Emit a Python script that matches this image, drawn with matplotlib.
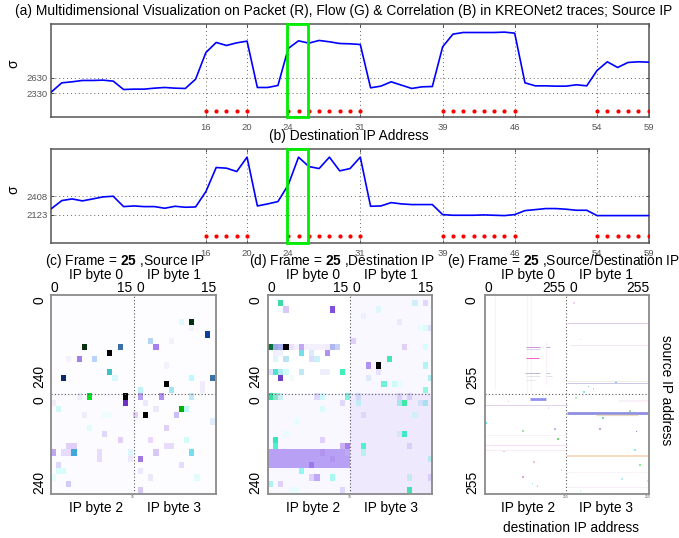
import numpy as np
import matplotlib
matplotlib.use("Agg")
import matplotlib.pyplot as plt
from matplotlib.colors import to_rgb
from matplotlib.patches import Rectangle

plt.rcParams['font.family'] = ['Liberation Sans', 'DejaVu Sans']
plt.rcParams['mathtext.fontset'] = 'custom'
plt.rcParams['mathtext.bf'] = 'Liberation Sans:bold'

W, H = 679, 538

frames = list(range(1, 60))
sigma_src = [2362, 2536, 2556, 2582, 2582, 2588, 2569, 2407, 2414, 2414, 2433, 2446, 2433, 2427, 2607,
             3123, 3317, 3259, 3310, 3343, 2446, 2446, 2485, 3201, 3349, 3304, 3356, 3330, 3297, 3291,
             3278, 2440, 2472, 2556, 2491, 2427, 2459, 2465, 3233, 3478, 3510, 3510, 3510, 3510, 3517,
             3497, 2536, 2478, 2478, 2472, 2472, 2498, 2478, 2775, 2943, 2833, 2930, 2943, 2936]
sigma_dst = [2220, 2342, 2367, 2337, 2367, 2398, 2408, 2250, 2260, 2250, 2250, 2225, 2255, 2240, 2245,
             2479, 2846, 2836, 2785, 3004, 2260, 2291, 2327, 2581, 3004, 2861, 2830, 3004, 2795, 2830,
             3004, 2255, 2260, 2311, 2291, 2281, 2281, 2281, 2128, 2118, 2118, 2118, 2123, 2118, 2113,
             2128, 2189, 2204, 2220, 2220, 2210, 2194, 2194, 2113, 2113, 2113, 2113, 2113, 2113]

anomaly_frames = [16, 17, 18, 19, 20, 24, 25, 26, 27, 28, 29, 30, 31, 39, 40, 41, 42, 43, 44, 45, 46,
                  54, 55, 56, 57, 58, 59]
xtick_frames = [16, 20, 24, 31, 39, 46, 54, 59]
yticks_src = [2330, 2630]
yticks_dst = [2123, 2408]
dot_level_src = 1988
dot_level_dst = 1802
selected_start, selected_end = 23.9, 25.95

# (row, col, colour) per 32x32 panel
cells_c = [(4, 27, '#003010'), (4, 25, '#e0f8ff'), (6, 30, '#0a3fa0'), (7, 19, '#b5d5f5'), (8, 20, '#a87ff0'),
           (8, 6, '#0a3010'), (8, 13, '#3a70a8'), (9, 11, '#000000'), (10, 5, '#a47fe8'), (10, 8, '#b8d4f8'),
           (12, 11, '#40c0c0'), (13, 2, '#0a2a6a'), (13, 12, '#d8f8ff'), (13, 27, '#c0f8ff'), (13, 31, '#3a70a8'),
           (14, 22, '#000000'), (15, 23, '#a0e8f0'), (15, 17, '#c0f4f8'), (16, 17, '#b8a0f0'), (16, 7, '#00e020'),
           (16, 14, '#000000'), (16, 21, '#b090f0'), (16, 27, '#c0e8f8'), (17, 14, '#7030c8'), (18, 25, '#00b000'),
           (18, 26, '#c0f8f8'), (18, 1, '#d0f8f8'), (19, 18, '#000000'), (19, 16, '#e0d0f8'), (19, 24, '#c8c0f8'),
           (21, 22, '#e0d0f8'), (21, 7, '#e0fcfc'), (22, 10, '#e0d8fc'), (23, 13, '#e0d0f8'), (23, 19, '#e8d8fc'),
           (23, 26, '#d0fcfc'), (25, 4, '#40a8d8'), (25, 0, '#c0a8f0'), (24, 3, '#e0d0f8'), (24, 4, '#e0d0f8'),
           (25, 2, '#e8dcfc'), (25, 3, '#e8dcfc'), (25, 27, '#70e0f0'), (25, 20, '#d8c8f8'), (26, 17, '#a078e0'),
           (25, 9, '#e8dcfc'), (26, 9, '#e8dcfc'), (27, 1, '#e0d8fc'), (28, 1, '#d8fcfc'), (28, 2, '#d8fcfc'),
           (30, 3, '#d0ccf8'), (31, 17, '#d8c8f8'), (27, 25, '#e8dcfc'), (24, 22, '#e8dcfc'), (24, 23, '#e8dcfc'),
           (29, 0, '#e8fcfc'), (28, 17, '#eee8fc'), (29, 19, '#eee8fc'), (29, 28, '#e0fcfc'), (26, 15, '#eee8fc'),
           (25, 15, '#e0f4fc'), (17, 18, '#eee8fc'), (18, 20, '#eee8fc'), (19, 6, '#f0ecfc'), (20, 31, '#e0ecfc'),
           (16, 5, '#f0ecfc'), (17, 0, '#f0ecfc'), (19, 10, '#eefcfc'), (19, 11, '#eefcfc'), (14, 29, '#f0ecfc'),
           (15, 29, '#f0ecfc'), (11, 22, '#f4f0fc'), (10, 3, '#f4f0fc'), (7, 23, '#f4f0fc'), (5, 27, '#f4f0fc')]

cells_d = [(1, 2, '#40d8a8'), (2, 3, '#d8c8f8'), (2, 12, '#8050e0'),
           (8, 0, '#087038'), (8, 1, '#9aa8e8'), (8, 2, '#a8b0f0'), (8, 3, '#000000'), (8, 4, '#e8e0fc'),
           (8, 5, '#f4f0fe'), (8, 6, '#c0a8f0'), (8, 7, '#f4f0fe'), (8, 8, '#f4f0fe'), (8, 9, '#f4f0fe'),
           (8, 10, '#f4f0fe'), (8, 11, '#f0ecfe'), (8, 12, '#b0b8f0'), (8, 13, '#c8d0f8'),
           (9, 6, '#70e0e8'), (9, 11, '#b090f0'), (9, 8, '#d8ecfc'), (9, 1, '#f0f0fe'), (9, 2, '#f0f0fe'),
           (10, 1, '#e0f4fc'), (10, 3, '#b8e4f4'), (10, 8, '#e0dcfc'), (10, 9, '#c8f0f8'),
           (12, 0, '#e0e0fc'), (12, 1, '#50e0d0'), (12, 2, '#b0ecf0'), (12, 3, '#d0fcfc'), (12, 6, '#c0e8f4'),
           (12, 10, '#eeeefc'), (12, 11, '#eeeefc'), (12, 14, '#40f0b8'), (13, 2, '#7040c8'), (13, 4, '#f0fcfc'),
           (16, 0, '#30e0a0'), (16, 1, '#90e0d0'), (16, 2, '#c8f0f0'), (16, 9, '#e0d8fc'), (16, 10, '#d0f8fc'),
           (16, 15, '#80f0e0'), (17, 14, '#e0d8fc'), (18, 10, '#d8fcfc'), (20, 5, '#e8fcfc'), (22, 3, '#e8fcfc'),
           (23, 1, '#30e8b8'), (23, 10, '#e0d0fc'), (24, 1, '#50f0d0'), (24, 14, '#c8b0f4'), (24, 15, '#a880e8'),
           (28, 6, '#90f8f0'), (29, 8, '#e0d0fc'), (29, 9, '#c0a8f8'), (29, 12, '#a8f8f0'),
           (30, 0, '#b0f0f0'), (30, 2, '#e0d0fc'), (31, 14, '#e0d8fc'), (31, 4, '#e8fcfc'), (31, 5, '#e8fcfc'),
           (1, 28, '#d0f0f8'), (1, 30, '#e0d8fc'), (2, 21, '#e0f8fc'), (7, 16, '#e0d0f8'), (10, 23, '#40e8b8'),
           (11, 19, '#b090f0'), (11, 21, '#000000'), (11, 30, '#b0f4f4'), (12, 21, '#e8e0fc'), (13, 31, '#b0f0f0'),
           (13, 19, '#e0e8fc'), (14, 22, '#70f0d8'), (14, 24, '#d0f8f8'), (14, 25, '#e8fcfc'), (15, 30, '#90f8e0'),
           (8, 26, '#e0d0f8'), (8, 30, '#d8fcfc'), (3, 18, '#eef0fe'), (4, 25, '#eee8fc'), (5, 31, '#e4e0fc'),
           (5, 29, '#e8fcfc'), (5, 30, '#d8fcfc'),
           (17, 17, '#c0ecf8'), (17, 25, '#a8e4f0'), (17, 26, '#40e8a8'), (17, 29, '#d0e0f8'), (17, 30, '#a8e0f0'),
           (22, 26, '#40e8c8'), (22, 25, '#d8e4f8'), (24, 18, '#50f0d8'), (25, 18, '#b8f0f0'), (24, 27, '#d8d0f8'),
           (26, 31, '#b8e8f0'), (19, 28, '#d0f0f8'), (31, 27, '#40e0b0'), (29, 27, '#c8e8f0'), (29, 31, '#d8ccf8'),
           (16, 17, '#d0d8f8'), (19, 18, '#dcd8fa'), (16, 25, '#d8d0f8'), (16, 27, '#d8d0f8')]

# the purple block in panel d: rows 25-27, left half
block_rows_d = [25, 26, 27]
block_cols_d = list(range(16))
block_colour_d = '#b8a0f4'
darker_block_d = [(27, 8, '#9c78ec'), (25, 10, '#b094f0'), (25, 15, '#c0a8f4'), (26, 12, '#b094f0')]

# (row, first col, last col, colour, width in px) of the streaks in panel e
streaks_e = [(268, 142, 191, '#9090f0', 2.0), (305, 256, 511, '#8f8fe0', 2.0), (310, 347, 478, '#eadcb8', 0.9),
             (416, 256, 511, '#f8dcc0', 1.4), (73, 256, 511, '#d8c0e4', 0.6), (130, 268, 511, '#f6e0f6', 0.6),
             (228, 256, 511, '#c4bee2', 0.6), (222, 256, 511, '#e8eedc', 0.6), (273, 420, 511, '#faeefa', 1.2),
             (285, 0, 256, '#e4d0ec', 0.7), (386, 0, 256, '#f8e0f8', 0.8), (400, 0, 256, '#f6e8f4', 0.6),
             (362, 0, 256, '#faf0f6', 0.6), (496, 256, 511, '#f6eaf6', 0.6), (456, 256, 511, '#f8f0f8', 0.6),
             (133, 128, 172, '#d090d8', 0.7), (133, 192, 205, '#b8b0d4', 0.7), (139, 128, 172, '#d4d4ec', 0.7),
             (163, 128, 170, '#f060c8', 0.7), (202, 126, 172, '#c0b4d8', 0.7), (209, 128, 172, '#e0dcec', 0.6),
             (218, 128, 160, '#e8e4f0', 0.6), (202, 192, 205, '#c0c0d4', 0.6), (209, 192, 210, '#e0dcec', 0.6)]
# (col, first row, last row, colour)
columns_e = [(33, 0, 240, '#f8f0fa'), (133, 0, 250, '#faf2fa'), (144, 0, 250, '#faf2fa'), (193, 120, 230, '#f8f2f8')]
dots_row_e = [20, 115, 250, 265, 275, 292, 318, 330, 345, 351, 352, 372, 404, 415, 438, 452, 470, 475, 486, 492,
              236, 243, 225, 300, 345, 400, 430, 505, 480]
dots_col_e = [280, 300, 310, 285, 75, 200, 370, 5, 360, 120, 475, 230, 60, 400, 485, 240, 120, 430, 150, 165,
              325, 340, 410, 455, 220, 470, 155, 300, 510]
dots_colour_e = ['#f0d0f0', '#d0e0f8', '#80e8e8', '#c0f0c0', '#f0c8e8', '#d8d8f8', '#70e0a0', '#70e8f0', '#c8a0e0',
                 '#a0e0a0', '#8090e0', '#70d870', '#f0c0e0', '#b0e8f0', '#90f090', '#c0e0f8', '#e0a0e0', '#b0f0f0',
                 '#80e8f0', '#90f0c0', '#70d890', '#a0e8f0', '#80c0e0', '#90e890', '#d0b0f0', '#90e8f0', '#f0c0e0',
                 '#c0f0f0', '#c0e8f0']


def box(left, top, right, bottom):
    return [left / W, 1 - bottom / H, (right - left) / W, (bottom - top) / H]


def put(x, y, s, size=9.9, **kw):
    fig.text(x / W, 1 - y / H, s, fontsize=size, ha=kw.pop('ha', 'center'), va='center', **kw)


def plot_sigma(top, bottom, values, yticks, ylim, dot_level, label_y):
    ax = fig.add_axes(box(51.5, top, 648.5, bottom))
    ax.plot(frames, values, color='#0000ff', lw=1.2, zorder=3)
    ax.plot(anomaly_frames, [dot_level] * len(anomaly_frames), ls='none', marker='o', ms=3.0,
            color='#ff0000', mec='none', zorder=4)
    ax.set_xlim(1, 59)
    ax.set_ylim(*ylim)
    ax.set_xticks(xtick_frames)
    ax.set_yticks(yticks)
    ax.tick_params(axis='x', labelsize=6.8, labelcolor='#555555', length=2, width=0.6, direction='in',
                   color='#333333', pad=4, top=True)
    ax.tick_params(axis='y', labelsize=6.8, labelcolor='#555555', length=2, width=0.6, direction='in',
                   color='#333333', pad=3, right=True)
    ax.grid(True, ls=(0, (1, 3)), lw=0.7, color='#666666')
    for s in ax.spines.values():
        s.set_color('#555555')
        s.set_linewidth(1.1)
    ax.add_patch(Rectangle((selected_start, ylim[0]), selected_end - selected_start, ylim[1] - ylim[0],
                           fill=False, ec='#00ee00', lw=2.0, zorder=5, clip_on=False))
    put(13, label_y, '\u03c3', size=10, rotation=90)
    return ax


def style_map(ax):
    ax.set_xticks([])
    ax.set_yticks([])
    for s in ax.spines.values():
        s.set_color('#8a8a8a')
        s.set_linewidth(1.3)


def cell_image(cells, background):
    img = np.ones((32, 32, 3))
    img[:] = to_rgb(background[0])
    img[:16, 16:] = to_rgb(background[1])
    img[16:, :16] = to_rgb(background[2])
    img[16:, 16:] = to_rgb(background[3])
    for r, c, colour in cells:
        img[r, c] = to_rgb(colour)
    return img


def plot_cells(left, right, cells, background):
    ax = fig.add_axes(box(left, 295, right, 493.5))
    ax.imshow(cell_image(cells, background), interpolation='nearest', aspect='auto')
    ax.axvline(15.5, color='#555555', ls=(0, (1, 2)), lw=0.8)
    ax.axhline(15.5, color='#555555', ls=(0, (1, 2)), lw=0.8)
    style_map(ax)
    return ax


fig = plt.figure(figsize=(W / 100, H / 100), dpi=100)

plot_sigma(23.5, 117, sigma_src, yticks_src, (1875, 3684), dot_level_src, 64)
plot_sigma(148.5, 243, sigma_dst, yticks_dst, (1695, 3136), dot_level_dst, 190)

put(344, 10.5, '(a) Multidimensional Visualization on Packet (R), Flow (G) & Correlation (B) in KREONet2 traces; Source IP')
put(349, 136, '(b) Destination IP Address')

block_cells = [(r, c, block_colour_d) for r in block_rows_d for c in block_cols_d]

plot_cells(51.5, 215.5, cells_c, ['#fdfdff', '#fdfdff', '#fcfbff', '#fdfcff'])
plot_cells(267.5, 432.5, block_cells + darker_block_d + cells_d, ['#ffffff', '#f9f7ff', '#f9f7ff', '#efe9fe'])

ax_e = fig.add_axes(box(484.5, 295, 648.5, 493.5))
ax_e.set_xlim(0, 512)
ax_e.set_ylim(512, 0)
for col, r0, r1, colour in columns_e:
    ax_e.plot([col, col], [r0, r1], color=colour, lw=0.8)
for row, c0, c1, colour, lw in streaks_e:
    ax_e.plot([c0, c1], [row, row], color=colour, lw=lw, solid_capstyle='butt')
ax_e.scatter(dots_col_e, dots_row_e, s=1.5, c=dots_colour_e, marker='s', linewidths=0)
ax_e.axvline(255.5, color='#555555', ls=(0, (1, 2)), lw=0.8)
ax_e.axhline(255.5, color='#555555', ls=(0, (1, 2)), lw=0.8)
style_map(ax_e)

put(125, 261, '(c) Frame = $\\mathbf{25}$ ,Source IP')
put(342, 261, '(d) Frame = $\\mathbf{25}$ ,Destination IP')
put(447, 261, '(e) Frame = $\\mathbf{25}$ ,Source/Destination IP', ha='left')

for x0, x1 in [(96, 174), (313, 391), (528, 606)]:
    put(x0, 275, 'IP byte 0')
    put(x1, 275, 'IP byte 1')
    put(x0, 508, 'IP byte 2')
    put(x1, 508, 'IP byte 3')

for xs, labels in [((54, 125, 140, 209), ('0', '15', '0', '15')),
                   ((271, 341, 356, 426), ('0', '15', '0', '15')),
                   ((488, 554, 573, 638), ('0', '255', '0', '255'))]:
    for x, s in zip(xs, labels):
        put(x, 288.5, s)

for x, far in [(39, '240'), (255, '240'), (472, '255')]:
    put(x, 300, '0', rotation=90)
    put(x, 377, far, rotation=90)
    put(x, 400, '0', rotation=90)
    put(x, 482, far, rotation=90)

# tiny marks under the map panels
put(132.5, 497.5, '15', size=2.5, color='#555555')
put(349.5, 497.5, '15', size=2.5, color='#555555')
put(566, 497.5, '255', size=2.5, color='#555555')
put(648, 497.5, '255', size=2.5, color='#555555')

put(571, 528, 'destination IP address')
put(666, 390, 'source IP address', rotation=-90)

fig.savefig('out.png', dpi=100)
